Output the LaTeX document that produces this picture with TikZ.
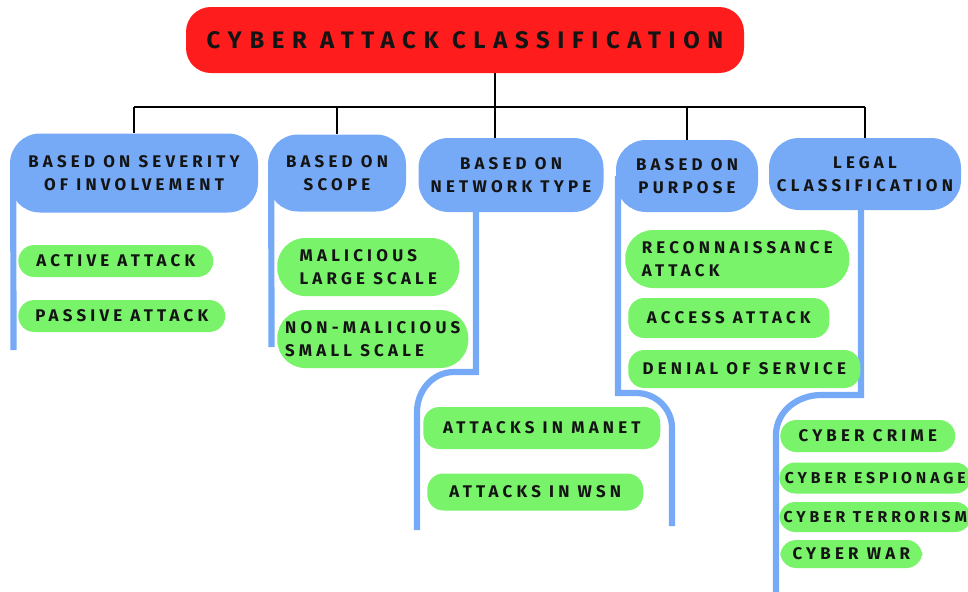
\documentclass[tikz,border=0pt]{standalone}
\usepackage{fontspec}
\usepackage{tikz}
\usetikzlibrary{positioning, backgrounds}
\newfontfamily\capfont[LetterSpace=25]{Fira Sans}
\newfontfamily\titlecaps[LetterSpace=32]{Fira Sans}
\newcommand{\pxu}{0.025cm}
\newcommand{\catfont}{\fontsize{12pt}{16.6pt}\capfont\bfseries}
\newcommand{\leaffont}{\fontsize{12pt}{16.6pt}\capfont\bfseries}
\definecolor{headred}{RGB}{255,28,28}
\definecolor{catblue}{RGB}{118,170,246}
\definecolor{leafgreen}{RGB}{120,243,106}
\definecolor{ink}{RGB}{20,20,20}

\begin{document}
\begin{tikzpicture}[
  x=0.025cm, y=-0.025cm,
  head/.style  = {fill=headred, rounded corners=0.62cm, minimum width=558*\pxu,
                  minimum height=66*\pxu, inner sep=0pt, text=ink,
                  font=\fontsize{17pt}{20pt}\titlecaps\bfseries},
  cat/.style   = {fill=catblue, rounded corners=0.75cm, inner sep=0pt, align=center,
                  text=ink, font=\catfont},
  leaf/.style  = {fill=leafgreen, rounded corners=0.4cm, inner sep=0pt, align=left,
                  anchor=west, text=ink, font=\leaffont},
  tall/.style  = {rounded corners=0.7cm},
  snug/.style  = {font=\fontsize{11.2pt}{16pt}\capfont\bfseries},
  link/.style  = {draw=black, line width=2pt},
  rail/.style  = {draw=catblue, line width=4.4pt},
]
\useasboundingbox (0,0) rectangle (968,592);

% =============== title and the five ways of sorting ===============
\node[head] (title) at (465,40) {CYBER ATTACK CLASSIFICATION};

\node[cat, minimum width=248*\pxu, minimum height=79*\pxu] (sev)   at (134,173)
  {BASED ON SEVERITY\\OF INVOLVEMENT};
\node[cat, minimum width=138*\pxu, minimum height=77*\pxu] (scope) at (337,173)
  {BASED ON\\SCOPE};
\node[cat, minimum width=185*\pxu, minimum height=74*\pxu] (net)   at (511,175)
  {BASED ON\\NETWORK TYPE};
\node[cat, minimum width=142*\pxu, minimum height=72*\pxu] (purp)  at (687,176)
  {BASED ON\\PURPOSE};
\node[cat, minimum width=192*\pxu, minimum height=72*\pxu] (legal) at (865,174)
  {LEGAL\\CLASSIFICATION};

% =============== leaves ===============
\node[leaf, minimum width=195*\pxu, minimum height=32*\pxu] (act) at (18,261) {ACTIVE ATTACK};
\node[leaf, minimum width=207*\pxu, minimum height=32*\pxu] (pas) at (18,316) {PASSIVE ATTACK};

\node[leaf, tall, minimum width=182*\pxu, minimum height=58*\pxu] (mal) at (277,267)
  {MALICIOUS\\LARGE SCALE};
\node[leaf, tall, minimum width=191*\pxu, minimum height=58*\pxu] (nonmal) at (277,339)
  {NON-MALICIOUS\\SMALL SCALE};

\node[leaf, minimum width=237*\pxu, minimum height=42*\pxu] (manet) at (423,428) {ATTACKS IN MANET};
\node[leaf, minimum width=216*\pxu, minimum height=37*\pxu] (wsn)   at (427,492) {ATTACKS IN WSN};

\node[leaf, tall, minimum width=224*\pxu, minimum height=58*\pxu] (recon) at (625,259)
  {RECONNAISSANCE\\ATTACK};
\node[leaf, minimum width=201*\pxu, minimum height=40*\pxu] (access) at (628,318) {ACCESS ATTACK};
\node[leaf, minimum width=232*\pxu, minimum height=38*\pxu] (dos)    at (628,369) {DENIAL OF SERVICE};

\node[leaf, minimum width=175*\pxu, minimum height=32*\pxu] (crime) at (780,436) {CYBER CRIME};
\node[leaf, snug, minimum width=192*\pxu, minimum height=31*\pxu] (spy)  at (779,478) {CYBER ESPIONAGE};
\node[leaf, snug, minimum width=192*\pxu, minimum height=30*\pxu] (terr) at (779,517) {CYBER TERRORISM};
\node[leaf, minimum width=142*\pxu, minimum height=28*\pxu] (war)   at (780,554) {CYBER WAR};

% rail ends
\coordinate (r1end) at (13.5,350);
\coordinate (r2end) at (271.5,347);
\coordinate (r3a) at (476,372);  \coordinate (r3end) at (417,530);
\coordinate (r4a) at (618,393);  \coordinate (r4end) at (672,526);
\coordinate (r5a) at (861,395);  \coordinate (r5end) at (776,600);
\coordinate (hub) at (495,107);

\begin{pgfonlayer}{background}
  % black tree
  \draw[link] (title.south -| hub) -- (hub |- net.north);
  \draw[link] (sev.north |- hub) -- (legal.north |- hub);
  \foreach \c in {sev, scope, purp, legal}
    \draw[link] (\c.north |- hub) -- (\c.north);

  % blue rails
  \draw[rail] ([xshift=3.5*\pxu]sev.west) -- (r1end);
  \draw[rail] ([xshift=3.5*\pxu]scope.west) -- (r2end);
  \draw[rail] (r3a |- net.center) -- (r3a) -- ++(-22,0) to[out=180,in=90] (r3end |- 0,412) -- (r3end);
  \draw[rail] (r4a |- purp.center) -- (r4a) -- ++(18,0) to[out=0,in=90] (r4end |- 0,428) -- (r4end);
  \draw[rail] (r5a |- legal.center) -- (r5a) -- ++(-40,0) to[out=180,in=90] (r5end |- 0,435) -- (r5end);
\end{pgfonlayer}

\end{tikzpicture}
\end{document}
